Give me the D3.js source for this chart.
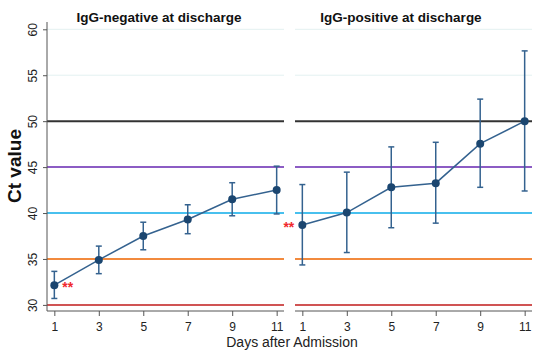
<!DOCTYPE html>
<html>
<head>
<meta charset="utf-8">
<script src="https://cdn.jsdelivr.net/npm/d3@7"></script>
<style>
  body { margin: 0; background: #fff; }
  svg { font-family: "Liberation Sans", Arial, sans-serif; }
</style>
</head>
<body>
<svg id="chart"></svg>
<script>
// data
const days = [1, 3, 5, 7, 9, 11];
const panelTitles = ["IgG-negative at discharge", "IgG-positive at discharge"];
const negMean  = [32.15, 34.9, 37.5, 39.3, 41.5, 42.5];
const negLower = [30.7, 33.4, 36.0, 37.75, 39.7, 39.9];
const negUpper = [33.65, 36.4, 39.0, 40.9, 43.3, 45.1];
const posMean  = [38.7, 40.05, 42.8, 43.25, 47.55, 50.0];
const posLower = [34.35, 35.7, 38.4, 38.9, 42.8, 42.4];
const posUpper = [43.1, 44.45, 47.2, 47.7, 52.4, 57.65];
const yTicks = [30, 35, 40, 45, 50, 55, 60];
const refLines = [
  { value: 30, color: "#d05454" },
  { value: 35, color: "#f28a3e" },
  { value: 40, color: "#48c0ee" },
  { value: 45, color: "#8c5cc4" },
  { value: 50, color: "#333333" }
];
const gridLines = [55, 60];

const width = 550, height = 356;
const svg = d3.select("#chart").attr("width", width).attr("height", height);

const plotTop = 22, plotBottom = 311;
const y = d3.scaleLinear().domain([30, 60]).range([304.9, 29.3]);

const panels = [
  { x0: 47, x1: 284, title: panelTitles[0], titleX: 159, mean: negMean, lo: negLower, hi: negUpper, star: "left" },
  { x0: 295, x1: 532, title: panelTitles[1], titleX: 401, mean: posMean, lo: posLower, hi: posUpper, star: "right" }
];

const lineColor = "#34628f";
const dotColor = "#1b4670";

panels.forEach((p, i) => {
  const x = d3.scaleLinear().domain([0.67, 11.33]).range([p.x0, p.x1]);
  const g = svg.append("g");

  // light gridlines
  g.selectAll(".grid").data(gridLines).enter().append("line")
    .attr("x1", p.x0).attr("x2", p.x1)
    .attr("y1", d => y(d)).attr("y2", d => y(d))
    .attr("stroke", "#e3f1f1").attr("stroke-width", 1);

  // reference lines
  g.selectAll(".ref").data(refLines).enter().append("line")
    .attr("x1", p.x0).attr("x2", p.x1)
    .attr("y1", d => y(d.value)).attr("y2", d => y(d.value))
    .attr("stroke", d => d.color).attr("stroke-width", 2);

  // x axis
  const xAxis = g.append("g")
    .attr("transform", `translate(0,${plotBottom})`)
    .call(d3.axisBottom(x).tickValues(days).tickSize(5).tickPadding(6).tickSizeOuter(0));
  xAxis.select(".domain").attr("stroke", "#555").attr("d", `M${p.x0},0H${p.x1}`);
  xAxis.selectAll(".tick line").attr("stroke", "#555");
  xAxis.selectAll(".tick text").attr("font-size", 12).attr("fill", "#222")
    .attr("font-family", "'Liberation Sans', Arial, sans-serif");

  // y axis on first panel
  if (i === 0) {
    const yAxis = g.append("g")
      .attr("transform", `translate(${p.x0},0)`)
      .call(d3.axisLeft(y).tickValues(yTicks).tickSize(4).tickPadding(3).tickSizeOuter(0));
    yAxis.select(".domain").attr("stroke", "#555").attr("d", `M0,${plotTop}V${plotBottom}`);
    yAxis.selectAll(".tick line").attr("stroke", "#555");
    yAxis.selectAll(".tick text")
      .attr("font-size", 12).attr("fill", "#222")
      .attr("font-family", "'Liberation Sans', Arial, sans-serif")
      .attr("x", null)
      .attr("text-anchor", "middle")
      .attr("transform", "translate(-14,0) rotate(-90)")
      .attr("dy", "0.35em");
  }

  const pts = days.map((d, k) => ({ day: d, mean: p.mean[k], lo: p.lo[k], hi: p.hi[k] }));

  // error bars
  const eb = g.selectAll(".eb").data(pts).enter().append("g");
  eb.append("line")
    .attr("x1", d => x(d.day)).attr("x2", d => x(d.day))
    .attr("y1", d => y(d.lo)).attr("y2", d => y(d.hi))
    .attr("stroke", lineColor).attr("stroke-width", 1.5);
  ["lo", "hi"].forEach(k => {
    eb.append("line")
      .attr("x1", d => x(d.day) - 3).attr("x2", d => x(d.day) + 3)
      .attr("y1", d => y(d[k])).attr("y2", d => y(d[k]))
      .attr("stroke", lineColor).attr("stroke-width", 1.5);
  });

  // mean line
  g.append("path")
    .datum(pts)
    .attr("d", d3.line().x(d => x(d.day)).y(d => y(d.mean)))
    .attr("fill", "none").attr("stroke", lineColor).attr("stroke-width", 1.5);

  g.selectAll(".dot").data(pts).enter().append("circle")
    .attr("cx", d => x(d.day)).attr("cy", d => y(d.mean))
    .attr("r", 4).attr("fill", dotColor);

  // significance stars
  const first = pts[0];
  const sx = p.star === "left" ? x(first.day) + 8 : x(first.day) - 8;
  g.append("text")
    .attr("x", sx).attr("y", y(first.mean) + 7)
    .attr("text-anchor", p.star === "left" ? "start" : "end")
    .attr("font-size", 14).attr("font-weight", "bold").attr("fill", "#f0282d")
    .text("**");

  // panel title
  g.append("text")
    .attr("x", p.titleX).attr("y", 22)
    .attr("text-anchor", "middle")
    .attr("font-size", 13.5).attr("font-weight", "bold").attr("fill", "#111")
    .text(p.title);
});

// axis titles
svg.append("text")
  .attr("transform", "translate(21,166) rotate(-90)")
  .attr("text-anchor", "middle")
  .attr("font-size", 19).attr("font-weight", "bold").attr("fill", "#111")
  .text("Ct value");

svg.append("text")
  .attr("x", 292).attr("y", 347)
  .attr("text-anchor", "middle")
  .attr("font-size", 14).attr("fill", "#222")
  .text("Days after Admission");
</script>
</body>
</html>
